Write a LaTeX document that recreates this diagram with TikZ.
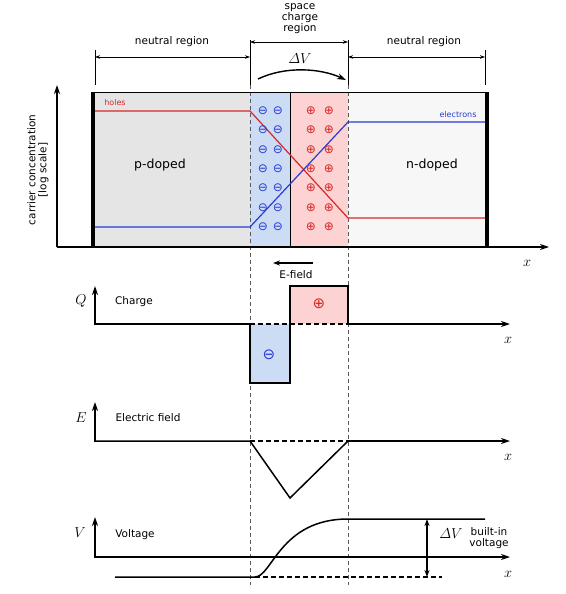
\documentclass[tikz,border=0pt]{standalone}
\usepackage{amsmath}
\usepackage{fontspec}
\setmainfont{DejaVu Sans}
\usetikzlibrary{arrows.meta}

\definecolor{holered}{RGB}{214,40,40}
\definecolor{elecblue}{RGB}{40,60,210}
\definecolor{pgray}{RGB}{229,229,229}
\definecolor{ngray}{RGB}{247,247,247}
\definecolor{scblue}{RGB}{204,220,245}
\definecolor{scred}{RGB}{252,210,210}
\definecolor{sepgray}{RGB}{90,90,90}

\tikzset{
  axis/.style={line width=1.5pt, -{Stealth[length=9pt,width=6pt]}},
  plotline/.style={line width=1.5pt},
  dimline/.style={line width=0.6pt, {Stealth[length=5pt,width=3.5pt]}-{Stealth[length=5pt,width=3.5pt]}},
  ticks/.style={line width=0.6pt},
  sepline/.style={sepgray, line width=0.8pt, dash pattern=on 4pt off 3pt},
  zeroline/.style={line width=1.5pt, dash pattern=on 5pt off 3pt},
  mathlbl/.style={font=\fontsize{15}{17}\selectfont},
  smalllbl/.style={font=\fontsize{8}{9}\selectfont},
  minus/.style={elecblue, inner sep=0pt, font=\fontsize{12}{13}\selectfont},
  plus/.style={holered, inner sep=0pt, font=\fontsize{12}{13}\selectfont}
}

\begin{document}
\begin{tikzpicture}[x=1pt, y=-1pt, font=\fontsize{10.5}{11}\selectfont]
  \useasboundingbox (0,0) rectangle (565,594);

  % --- regions of the junction ---
  \fill[pgray]  (95,92)  rectangle (250,246);
  \fill[scblue] (250,92) rectangle (290,246);
  \fill[scred]  (290,92) rectangle (348,246);
  \fill[ngray]  (348,92) rectangle (485,246);

  % --- borders of the space charge region ---
  \draw[sepline] (250,85) -- (250,585);
  \draw[sepline] (348,85) -- (348,585);
  \draw[ticks] (95,50) -- (95,85);
  \draw[ticks] (250,40) -- (250,85);
  \draw[ticks] (348,40) -- (348,85);
  \draw[ticks] (485,50) -- (485,85);

  \draw[line width=0.8pt] (93,92) -- (485,92);
  \draw[line width=0.8pt] (290,92) -- (290,246);
  \draw[line width=4.5pt] (93,91.6) -- (93,246);
  \draw[line width=4pt] (487,91.6) -- (487,246);

  % --- carrier concentrations ---
  \draw[holered, line width=1.2pt]  (95,111) -- (250,111) -- (348,218) -- (485,218);
  \draw[elecblue, line width=1.2pt] (95,227) -- (250,227) -- (348,122) -- (485,122);
  \node[holered, smalllbl] (holes) at (115,103) {holes};
  \node[elecblue, smalllbl] (electrons) at (458,115) {electrons};

  \foreach \y in {111,130,150,169,188,208,227} {
    \node[minus] (ma\y) at (263,\y) {⊖};
    \node[minus] (mb\y) at (278,\y) {⊖};
    \node[plus]  (pa\y) at (311,\y) {⊕};
    \node[plus]  (pb\y) at (329,\y) {⊕};
  }

  \node[font=\fontsize{12.5}{14}\selectfont] (pdoped) at (160,165) {p-doped};
  \node[font=\fontsize{12.5}{14}\selectfont] (ndoped) at (432,165) {n-doped};

  % --- axes of the top plot ---
  \draw[axis] (57,247) -- (57,85);
  \draw[axis] (57,247) -- (549,247);
  \node[mathlbl] (xa) at (527,263) {$x$};
  \node[rotate=90, align=center] (conc) at (38,170) {carrier concentration\\ {[log scale]}};

  % --- labels above ---
  \draw[dimline] (95,57) -- (250,57);
  \draw[dimline] (250,42) -- (348,42);
  \draw[dimline] (348,57) -- (485,57);
  \node (neutl) at (172,42) {neutral region};
  \node (neutr) at (424,42) {neutral region};
  \node[align=center] (scr) at (300,19) {space\\charge\\region};
  \node[font=\fontsize{15}{17}\selectfont] (dvtop) at (300,59) {$\varDelta V$};
  \draw[line width=1.4pt, -{Stealth[length=9pt,width=6pt]}] (258,79) .. controls (285,66) and (320,68) .. (346,80);

  % --- E-field arrow ---
  \draw[line width=1.3pt, -{Stealth[length=7pt,width=5pt]}] (313,263) -- (273,263);
  \node (efield) at (296,275) {E-field};

  % --- charge ---
  \fill[scblue] (250,324) rectangle (290,383);
  \fill[scred]  (290,286) rectangle (348,324);
  \draw[axis] (95,325) -- (95,286);
  \draw[plotline] (95,324) -- (250,324) -- (250,383) -- (290,383) -- (290,286) -- (348,286) -- (348,324);
  \draw[zeroline] (250,324) -- (348,324);
  \draw[axis] (348,324) -- (510,324);
  \node[minus, font=\fontsize{15}{17}\selectfont] (qminus) at (269,355) {⊖};
  \node[plus, font=\fontsize{15}{17}\selectfont] (qplus) at (319,304) {⊕};
  \node[mathlbl] (qlbl) at (81,301) {$Q$};
  \node (charge) at (134,302) {Charge};
  \node[mathlbl] (xq) at (508,340) {$x$};

  % --- electric field ---
  \draw[axis] (95,442) -- (95,402);
  \draw[plotline] (95,441) -- (250,441) -- (290,498) -- (348,441);
  \draw[zeroline] (250,441) -- (348,441);
  \draw[axis] (348,441) -- (510,441);
  \node[mathlbl] (elbl) at (81,418) {$E$};
  \node (efld) at (148,418) {Electric field};
  \node[mathlbl] (xe) at (508,457) {$x$};

  % --- voltage ---
  \draw[axis] (95,558) -- (95,517);
  \draw[axis] (95,557) -- (510,557);
  \draw[plotline] (115,577) -- (255,577) .. controls (272,577) and (280,519) .. (348,519) -- (485,519);
  \draw[zeroline, line width=1.2pt] (255,577) -- (442,577);
  \draw[line width=1.2pt, {Stealth[length=7pt,width=5pt]}-{Stealth[length=7pt,width=5pt]}] (427,519) -- (427,577);
  \node[mathlbl] (vlbl) at (80,533) {$V$};
  \node (volt) at (135,535) {Voltage};
  \node[font=\fontsize{15}{17}\selectfont] (dvbot) at (451,534) {$\varDelta V$};
  \node[align=center] (builtin) at (489,538) {built-in\\voltage};
  \node[mathlbl] (xv) at (508,574) {$x$};
\end{tikzpicture}
\end{document}
